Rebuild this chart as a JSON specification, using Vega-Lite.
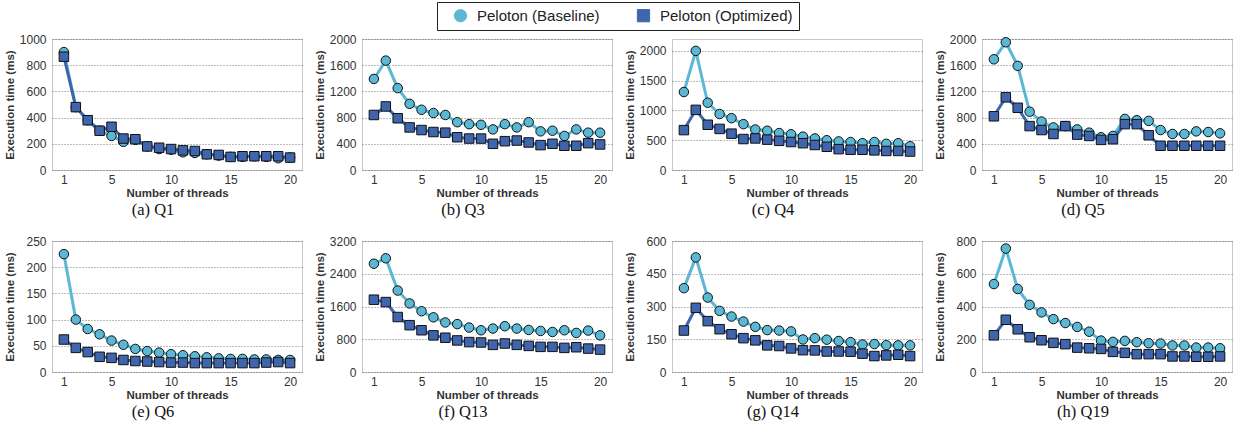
{
  "$schema": "https://vega.github.io/schema/vega-lite/v6.json",
  "padding": {"left": 3, "top": 1, "right": 5, "bottom": 2},
  "background": "white",
  "datasets": {
    "d": [
      {"q":"Q1","t":1,"Baseline":900,"Optimized":865},{"q":"Q1","t":2,"Baseline":480,"Optimized":480},{"q":"Q1","t":3,"Baseline":380,"Optimized":380},{"q":"Q1","t":4,"Baseline":300,"Optimized":300},{"q":"Q1","t":5,"Baseline":260,"Optimized":330},{"q":"Q1","t":6,"Baseline":215,"Optimized":240},{"q":"Q1","t":7,"Baseline":230,"Optimized":235},{"q":"Q1","t":8,"Baseline":180,"Optimized":180},{"q":"Q1","t":9,"Baseline":160,"Optimized":170},{"q":"Q1","t":10,"Baseline":155,"Optimized":160},{"q":"Q1","t":11,"Baseline":135,"Optimized":150},{"q":"Q1","t":12,"Baseline":130,"Optimized":145},{"q":"Q1","t":13,"Baseline":120,"Optimized":120},{"q":"Q1","t":14,"Baseline":110,"Optimized":115},{"q":"Q1","t":15,"Baseline":100,"Optimized":100},{"q":"Q1","t":16,"Baseline":100,"Optimized":105},{"q":"Q1","t":17,"Baseline":105,"Optimized":105},{"q":"Q1","t":18,"Baseline":100,"Optimized":105},{"q":"Q1","t":19,"Baseline":90,"Optimized":105},{"q":"Q1","t":20,"Baseline":95,"Optimized":95},
      {"q":"Q3","t":1,"Baseline":1390,"Optimized":840},{"q":"Q3","t":2,"Baseline":1670,"Optimized":970},{"q":"Q3","t":3,"Baseline":1250,"Optimized":790},{"q":"Q3","t":4,"Baseline":1010,"Optimized":650},{"q":"Q3","t":5,"Baseline":920,"Optimized":610},{"q":"Q3","t":6,"Baseline":870,"Optimized":580},{"q":"Q3","t":7,"Baseline":840,"Optimized":570},{"q":"Q3","t":8,"Baseline":730,"Optimized":500},{"q":"Q3","t":9,"Baseline":700,"Optimized":480},{"q":"Q3","t":10,"Baseline":690,"Optimized":480},{"q":"Q3","t":11,"Baseline":620,"Optimized":400},{"q":"Q3","t":12,"Baseline":700,"Optimized":440},{"q":"Q3","t":13,"Baseline":650,"Optimized":450},{"q":"Q3","t":14,"Baseline":730,"Optimized":420},{"q":"Q3","t":15,"Baseline":590,"Optimized":380},{"q":"Q3","t":16,"Baseline":600,"Optimized":400},{"q":"Q3","t":17,"Baseline":520,"Optimized":370},{"q":"Q3","t":18,"Baseline":620,"Optimized":370},{"q":"Q3","t":19,"Baseline":570,"Optimized":410},{"q":"Q3","t":20,"Baseline":570,"Optimized":390},
      {"q":"Q4","t":1,"Baseline":1310,"Optimized":670},{"q":"Q4","t":2,"Baseline":2000,"Optimized":1010},{"q":"Q4","t":3,"Baseline":1130,"Optimized":760},{"q":"Q4","t":4,"Baseline":940,"Optimized":690},{"q":"Q4","t":5,"Baseline":870,"Optimized":610},{"q":"Q4","t":6,"Baseline":770,"Optimized":520},{"q":"Q4","t":7,"Baseline":680,"Optimized":530},{"q":"Q4","t":8,"Baseline":660,"Optimized":510},{"q":"Q4","t":9,"Baseline":620,"Optimized":490},{"q":"Q4","t":10,"Baseline":600,"Optimized":470},{"q":"Q4","t":11,"Baseline":560,"Optimized":450},{"q":"Q4","t":12,"Baseline":530,"Optimized":420},{"q":"Q4","t":13,"Baseline":500,"Optimized":390},{"q":"Q4","t":14,"Baseline":480,"Optimized":350},{"q":"Q4","t":15,"Baseline":470,"Optimized":340},{"q":"Q4","t":16,"Baseline":450,"Optimized":340},{"q":"Q4","t":17,"Baseline":470,"Optimized":330},{"q":"Q4","t":18,"Baseline":440,"Optimized":320},{"q":"Q4","t":19,"Baseline":450,"Optimized":320},{"q":"Q4","t":20,"Baseline":400,"Optimized":310},
      {"q":"Q5","t":1,"Baseline":1690,"Optimized":820},{"q":"Q5","t":2,"Baseline":1950,"Optimized":1110},{"q":"Q5","t":3,"Baseline":1590,"Optimized":950},{"q":"Q5","t":4,"Baseline":890,"Optimized":670},{"q":"Q5","t":5,"Baseline":740,"Optimized":610},{"q":"Q5","t":6,"Baseline":650,"Optimized":550},{"q":"Q5","t":7,"Baseline":670,"Optimized":670},{"q":"Q5","t":8,"Baseline":620,"Optimized":540},{"q":"Q5","t":9,"Baseline":570,"Optimized":520},{"q":"Q5","t":10,"Baseline":500,"Optimized":460},{"q":"Q5","t":11,"Baseline":520,"Optimized":470},{"q":"Q5","t":12,"Baseline":780,"Optimized":700},{"q":"Q5","t":13,"Baseline":760,"Optimized":700},{"q":"Q5","t":14,"Baseline":750,"Optimized":530},{"q":"Q5","t":15,"Baseline":610,"Optimized":370},{"q":"Q5","t":16,"Baseline":550,"Optimized":370},{"q":"Q5","t":17,"Baseline":550,"Optimized":370},{"q":"Q5","t":18,"Baseline":590,"Optimized":370},{"q":"Q5","t":19,"Baseline":580,"Optimized":370},{"q":"Q5","t":20,"Baseline":560,"Optimized":370},
      {"q":"Q6","t":1,"Baseline":225,"Optimized":62},{"q":"Q6","t":2,"Baseline":100,"Optimized":46},{"q":"Q6","t":3,"Baseline":82,"Optimized":38},{"q":"Q6","t":4,"Baseline":72,"Optimized":29},{"q":"Q6","t":5,"Baseline":60,"Optimized":27},{"q":"Q6","t":6,"Baseline":52,"Optimized":23},{"q":"Q6","t":7,"Baseline":44,"Optimized":21},{"q":"Q6","t":8,"Baseline":40,"Optimized":20},{"q":"Q6","t":9,"Baseline":37,"Optimized":19},{"q":"Q6","t":10,"Baseline":34,"Optimized":18},{"q":"Q6","t":11,"Baseline":32,"Optimized":18},{"q":"Q6","t":12,"Baseline":30,"Optimized":17},{"q":"Q6","t":13,"Baseline":28,"Optimized":17},{"q":"Q6","t":14,"Baseline":26,"Optimized":17},{"q":"Q6","t":15,"Baseline":25,"Optimized":17},{"q":"Q6","t":16,"Baseline":25,"Optimized":17},{"q":"Q6","t":17,"Baseline":24,"Optimized":17},{"q":"Q6","t":18,"Baseline":24,"Optimized":18},{"q":"Q6","t":19,"Baseline":23,"Optimized":19},{"q":"Q6","t":20,"Baseline":23,"Optimized":17},
      {"q":"Q13","t":1,"Baseline":2645,"Optimized":1766},{"q":"Q13","t":2,"Baseline":2778,"Optimized":1708},{"q":"Q13","t":3,"Baseline":1990,"Optimized":1343},{"q":"Q13","t":4,"Baseline":1675,"Optimized":1144},{"q":"Q13","t":5,"Baseline":1484,"Optimized":1020},{"q":"Q13","t":6,"Baseline":1335,"Optimized":895},{"q":"Q13","t":7,"Baseline":1210,"Optimized":837},{"q":"Q13","t":8,"Baseline":1170,"Optimized":771},{"q":"Q13","t":9,"Baseline":1086,"Optimized":730},{"q":"Q13","t":10,"Baseline":1020,"Optimized":721},{"q":"Q13","t":11,"Baseline":1061,"Optimized":663},{"q":"Q13","t":12,"Baseline":1119,"Optimized":696},{"q":"Q13","t":13,"Baseline":1061,"Optimized":663},{"q":"Q13","t":14,"Baseline":1028,"Optimized":638},{"q":"Q13","t":15,"Baseline":1003,"Optimized":614},{"q":"Q13","t":16,"Baseline":978,"Optimized":614},{"q":"Q13","t":17,"Baseline":1020,"Optimized":589},{"q":"Q13","t":18,"Baseline":954,"Optimized":605},{"q":"Q13","t":19,"Baseline":1012,"Optimized":572},{"q":"Q13","t":20,"Baseline":895,"Optimized":547},
      {"q":"Q14","t":1,"Baseline":384,"Optimized":190},{"q":"Q14","t":2,"Baseline":525,"Optimized":294},{"q":"Q14","t":3,"Baseline":341,"Optimized":233},{"q":"Q14","t":4,"Baseline":280,"Optimized":196},{"q":"Q14","t":5,"Baseline":254,"Optimized":173},{"q":"Q14","t":6,"Baseline":231,"Optimized":155},{"q":"Q14","t":7,"Baseline":207,"Optimized":145},{"q":"Q14","t":8,"Baseline":192,"Optimized":122},{"q":"Q14","t":9,"Baseline":190,"Optimized":119},{"q":"Q14","t":10,"Baseline":186,"Optimized":108},{"q":"Q14","t":11,"Baseline":149,"Optimized":100},{"q":"Q14","t":12,"Baseline":155,"Optimized":99},{"q":"Q14","t":13,"Baseline":148,"Optimized":94},{"q":"Q14","t":14,"Baseline":142,"Optimized":94},{"q":"Q14","t":15,"Baseline":137,"Optimized":93},{"q":"Q14","t":16,"Baseline":126,"Optimized":84},{"q":"Q14","t":17,"Baseline":128,"Optimized":73},{"q":"Q14","t":18,"Baseline":123,"Optimized":76},{"q":"Q14","t":19,"Baseline":122,"Optimized":79},{"q":"Q14","t":20,"Baseline":122,"Optimized":73},
      {"q":"Q19","t":1,"Baseline":537,"Optimized":224},{"q":"Q19","t":2,"Baseline":754,"Optimized":319},{"q":"Q19","t":3,"Baseline":507,"Optimized":261},{"q":"Q19","t":4,"Baseline":410,"Optimized":212},{"q":"Q19","t":5,"Baseline":364,"Optimized":194},{"q":"Q19","t":6,"Baseline":323,"Optimized":178},{"q":"Q19","t":7,"Baseline":299,"Optimized":170},{"q":"Q19","t":8,"Baseline":275,"Optimized":149},{"q":"Q19","t":9,"Baseline":246,"Optimized":145},{"q":"Q19","t":10,"Baseline":192,"Optimized":141},{"q":"Q19","t":11,"Baseline":184,"Optimized":123},{"q":"Q19","t":12,"Baseline":190,"Optimized":117},{"q":"Q19","t":13,"Baseline":182,"Optimized":109},{"q":"Q19","t":14,"Baseline":176,"Optimized":109},{"q":"Q19","t":15,"Baseline":174,"Optimized":109},{"q":"Q19","t":16,"Baseline":162,"Optimized":95},{"q":"Q19","t":17,"Baseline":162,"Optimized":95},{"q":"Q19","t":18,"Baseline":149,"Optimized":93},{"q":"Q19","t":19,"Baseline":149,"Optimized":93},{"q":"Q19","t":20,"Baseline":145,"Optimized":95}
    ]
  },
  "data": {"name": "d"},
  "columns": 4,
  "spacing": {"row": 15, "column": 10},
  "resolve": {"scale": {"x": "independent", "y": "independent", "color": "shared", "shape": "shared"}},
  "concat": [
    {"title": "(a) Q1", "width": 250, "height": 131,
     "transform": [{"filter": "datum.q === 'Q1'"}, {"fold": ["Baseline", "Optimized"], "as": ["series", "ms"]}],
     "encoding": {
       "x": {"field": "t", "type": "quantitative", "scale": {"domain": [0, 21]}, "axis": {"values": [1, 5, 10, 15, 20], "title": "Number of threads"}},
       "y": {"field": "ms", "type": "quantitative", "scale": {"domain": [0, 1000]}, "axis": {"values": [0, 200, 400, 600, 800, 1000], "format": "d", "title": "Execution time (ms)"}},
       "color": {"field": "series", "type": "nominal", "scale": {"domain": ["Baseline", "Optimized"], "range": ["#5bb8d4", "#3f66ad"]}, "legend": {"title": null, "labelExpr": "'Peloton (' + datum.label + ')'"}}
     },
     "layer": [
       {"mark": {"type": "line", "strokeWidth": 3}},
       {"mark": {"type": "point", "filled": true, "opacity": 1, "stroke": "#111", "strokeWidth": 1, "size": 90},
        "encoding": {"shape": {"field": "series", "type": "nominal", "scale": {"domain": ["Baseline", "Optimized"], "range": ["circle", "square"]}, "legend": {"title": null, "labelExpr": "'Peloton (' + datum.label + ')'"}}}}
     ]},
    {"title": "(b) Q3", "width": 250, "height": 131,
     "transform": [{"filter": "datum.q === 'Q3'"}, {"fold": ["Baseline", "Optimized"], "as": ["series", "ms"]}],
     "encoding": {
       "x": {"field": "t", "type": "quantitative", "scale": {"domain": [0, 21]}, "axis": {"values": [1, 5, 10, 15, 20], "title": "Number of threads"}},
       "y": {"field": "ms", "type": "quantitative", "scale": {"domain": [0, 2000]}, "axis": {"values": [0, 400, 800, 1200, 1600, 2000], "format": "d", "title": "Execution time (ms)"}},
       "color": {"field": "series", "type": "nominal", "scale": {"domain": ["Baseline", "Optimized"], "range": ["#5bb8d4", "#3f66ad"]}, "legend": {"title": null, "labelExpr": "'Peloton (' + datum.label + ')'"}}
     },
     "layer": [
       {"mark": {"type": "line", "strokeWidth": 3}},
       {"mark": {"type": "point", "filled": true, "opacity": 1, "stroke": "#111", "strokeWidth": 1, "size": 90},
        "encoding": {"shape": {"field": "series", "type": "nominal", "scale": {"domain": ["Baseline", "Optimized"], "range": ["circle", "square"]}, "legend": {"title": null, "labelExpr": "'Peloton (' + datum.label + ')'"}}}}
     ]},
    {"title": "(c) Q4", "width": 250, "height": 131,
     "transform": [{"filter": "datum.q === 'Q4'"}, {"fold": ["Baseline", "Optimized"], "as": ["series", "ms"]}],
     "encoding": {
       "x": {"field": "t", "type": "quantitative", "scale": {"domain": [0, 21]}, "axis": {"values": [1, 5, 10, 15, 20], "title": "Number of threads"}},
       "y": {"field": "ms", "type": "quantitative", "scale": {"domain": [0, 2200]}, "axis": {"values": [0, 500, 1000, 1500, 2000], "format": "d", "title": "Execution time (ms)"}},
       "color": {"field": "series", "type": "nominal", "scale": {"domain": ["Baseline", "Optimized"], "range": ["#5bb8d4", "#3f66ad"]}, "legend": {"title": null, "labelExpr": "'Peloton (' + datum.label + ')'"}}
     },
     "layer": [
       {"mark": {"type": "line", "strokeWidth": 3}},
       {"mark": {"type": "point", "filled": true, "opacity": 1, "stroke": "#111", "strokeWidth": 1, "size": 90},
        "encoding": {"shape": {"field": "series", "type": "nominal", "scale": {"domain": ["Baseline", "Optimized"], "range": ["circle", "square"]}, "legend": {"title": null, "labelExpr": "'Peloton (' + datum.label + ')'"}}}}
     ]},
    {"title": "(d) Q5", "width": 250, "height": 131,
     "transform": [{"filter": "datum.q === 'Q5'"}, {"fold": ["Baseline", "Optimized"], "as": ["series", "ms"]}],
     "encoding": {
       "x": {"field": "t", "type": "quantitative", "scale": {"domain": [0, 21]}, "axis": {"values": [1, 5, 10, 15, 20], "title": "Number of threads"}},
       "y": {"field": "ms", "type": "quantitative", "scale": {"domain": [0, 2000]}, "axis": {"values": [0, 400, 800, 1200, 1600, 2000], "format": "d", "title": "Execution time (ms)"}},
       "color": {"field": "series", "type": "nominal", "scale": {"domain": ["Baseline", "Optimized"], "range": ["#5bb8d4", "#3f66ad"]}, "legend": {"title": null, "labelExpr": "'Peloton (' + datum.label + ')'"}}
     },
     "layer": [
       {"mark": {"type": "line", "strokeWidth": 3}},
       {"mark": {"type": "point", "filled": true, "opacity": 1, "stroke": "#111", "strokeWidth": 1, "size": 90},
        "encoding": {"shape": {"field": "series", "type": "nominal", "scale": {"domain": ["Baseline", "Optimized"], "range": ["circle", "square"]}, "legend": {"title": null, "labelExpr": "'Peloton (' + datum.label + ')'"}}}}
     ]},
    {"title": "(e) Q6", "width": 250, "height": 131,
     "transform": [{"filter": "datum.q === 'Q6'"}, {"fold": ["Baseline", "Optimized"], "as": ["series", "ms"]}],
     "encoding": {
       "x": {"field": "t", "type": "quantitative", "scale": {"domain": [0, 21]}, "axis": {"values": [1, 5, 10, 15, 20], "title": "Number of threads"}},
       "y": {"field": "ms", "type": "quantitative", "scale": {"domain": [0, 250]}, "axis": {"values": [0, 50, 100, 150, 200, 250], "format": "d", "title": "Execution time (ms)"}},
       "color": {"field": "series", "type": "nominal", "scale": {"domain": ["Baseline", "Optimized"], "range": ["#5bb8d4", "#3f66ad"]}, "legend": {"title": null, "labelExpr": "'Peloton (' + datum.label + ')'"}}
     },
     "layer": [
       {"mark": {"type": "line", "strokeWidth": 3}},
       {"mark": {"type": "point", "filled": true, "opacity": 1, "stroke": "#111", "strokeWidth": 1, "size": 90},
        "encoding": {"shape": {"field": "series", "type": "nominal", "scale": {"domain": ["Baseline", "Optimized"], "range": ["circle", "square"]}, "legend": {"title": null, "labelExpr": "'Peloton (' + datum.label + ')'"}}}}
     ]},
    {"title": "(f) Q13", "width": 250, "height": 131,
     "transform": [{"filter": "datum.q === 'Q13'"}, {"fold": ["Baseline", "Optimized"], "as": ["series", "ms"]}],
     "encoding": {
       "x": {"field": "t", "type": "quantitative", "scale": {"domain": [0, 21]}, "axis": {"values": [1, 5, 10, 15, 20], "title": "Number of threads"}},
       "y": {"field": "ms", "type": "quantitative", "scale": {"domain": [0, 3200]}, "axis": {"values": [0, 800, 1600, 2400, 3200], "format": "d", "title": "Execution time (ms)"}},
       "color": {"field": "series", "type": "nominal", "scale": {"domain": ["Baseline", "Optimized"], "range": ["#5bb8d4", "#3f66ad"]}, "legend": {"title": null, "labelExpr": "'Peloton (' + datum.label + ')'"}}
     },
     "layer": [
       {"mark": {"type": "line", "strokeWidth": 3}},
       {"mark": {"type": "point", "filled": true, "opacity": 1, "stroke": "#111", "strokeWidth": 1, "size": 90},
        "encoding": {"shape": {"field": "series", "type": "nominal", "scale": {"domain": ["Baseline", "Optimized"], "range": ["circle", "square"]}, "legend": {"title": null, "labelExpr": "'Peloton (' + datum.label + ')'"}}}}
     ]},
    {"title": "(g) Q14", "width": 250, "height": 131,
     "transform": [{"filter": "datum.q === 'Q14'"}, {"fold": ["Baseline", "Optimized"], "as": ["series", "ms"]}],
     "encoding": {
       "x": {"field": "t", "type": "quantitative", "scale": {"domain": [0, 21]}, "axis": {"values": [1, 5, 10, 15, 20], "title": "Number of threads"}},
       "y": {"field": "ms", "type": "quantitative", "scale": {"domain": [0, 600]}, "axis": {"values": [0, 150, 300, 450, 600], "format": "d", "title": "Execution time (ms)"}},
       "color": {"field": "series", "type": "nominal", "scale": {"domain": ["Baseline", "Optimized"], "range": ["#5bb8d4", "#3f66ad"]}, "legend": {"title": null, "labelExpr": "'Peloton (' + datum.label + ')'"}}
     },
     "layer": [
       {"mark": {"type": "line", "strokeWidth": 3}},
       {"mark": {"type": "point", "filled": true, "opacity": 1, "stroke": "#111", "strokeWidth": 1, "size": 90},
        "encoding": {"shape": {"field": "series", "type": "nominal", "scale": {"domain": ["Baseline", "Optimized"], "range": ["circle", "square"]}, "legend": {"title": null, "labelExpr": "'Peloton (' + datum.label + ')'"}}}}
     ]},
    {"title": "(h) Q19", "width": 250, "height": 131,
     "transform": [{"filter": "datum.q === 'Q19'"}, {"fold": ["Baseline", "Optimized"], "as": ["series", "ms"]}],
     "encoding": {
       "x": {"field": "t", "type": "quantitative", "scale": {"domain": [0, 21]}, "axis": {"values": [1, 5, 10, 15, 20], "title": "Number of threads"}},
       "y": {"field": "ms", "type": "quantitative", "scale": {"domain": [0, 800]}, "axis": {"values": [0, 200, 400, 600, 800], "format": "d", "title": "Execution time (ms)"}},
       "color": {"field": "series", "type": "nominal", "scale": {"domain": ["Baseline", "Optimized"], "range": ["#5bb8d4", "#3f66ad"]}, "legend": {"title": null, "labelExpr": "'Peloton (' + datum.label + ')'"}}
     },
     "layer": [
       {"mark": {"type": "line", "strokeWidth": 3}},
       {"mark": {"type": "point", "filled": true, "opacity": 1, "stroke": "#111", "strokeWidth": 1, "size": 90},
        "encoding": {"shape": {"field": "series", "type": "nominal", "scale": {"domain": ["Baseline", "Optimized"], "range": ["circle", "square"]}, "legend": {"title": null, "labelExpr": "'Peloton (' + datum.label + ')'"}}}}
     ]}
  ],
  "config": {
    "font": "Liberation Sans",
    "view": {"stroke": "#c8c8c8", "strokeWidth": 1},
    "axis": {"domain": false, "ticks": false, "labelFontSize": 12, "labelColor": "#333", "titleFontSize": 11.5, "titleFontWeight": "bold", "titleColor": "#333", "gridColor": "#555", "gridDash": [1, 2], "gridWidth": 0.8},
    "axisX": {"grid": false, "labelPadding": 4, "titlePadding": 2, "labelFlush": false},
    "axisY": {"labelPadding": 6, "minExtent": 34, "maxExtent": 34, "titlePadding": 3},
    "title": {"orient": "bottom", "font": "Liberation Serif", "fontSize": 16.5, "fontWeight": "normal", "color": "#111", "offset": 3, "frame": "bounds", "anchor": "middle"},
    "legend": {"orient": "none", "legendX": 385, "legendY": -37, "direction": "horizontal", "strokeColor": "#222", "padding": 6, "symbolOffset": 10, "labelOffset": 9, "labelFontSize": 15, "labelColor": "#222", "symbolSize": 150, "symbolStrokeColor": "#111", "symbolStrokeWidth": 1, "columnPadding": 26}
  }
}
